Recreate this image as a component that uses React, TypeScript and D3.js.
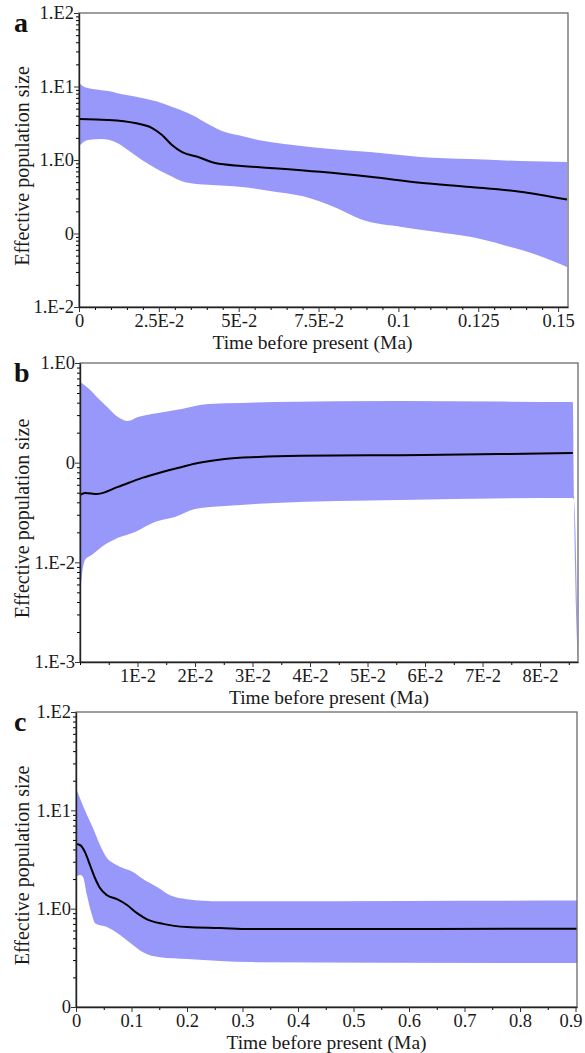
import React, { useEffect, useRef } from "react";
import * as d3 from "d3";

// ---- panel a : values (time in Ma, Ne) ----
const aHiTime = [0, 0.0019, 0.005, 0.0091, 0.0144, 0.0197, 0.0247, 0.0301, 0.0354, 0.0404, 0.0457, 0.051, 0.0561, 0.0598, 0.0755, 0.0911, 0.1068, 0.1225, 0.1381, 0.1528];
const aHi = [11.2, 9.8, 9.2, 8.7, 7.7, 7.0, 6.2, 5.1, 4.1, 3.09, 2.4, 2.12, 1.87, 1.76, 1.46, 1.28, 1.1, 1.03, 0.97, 0.94];
const aMedTime = [0, 0.0091, 0.0175, 0.0229, 0.026, 0.0291, 0.0323, 0.0373, 0.0426, 0.051, 0.0598, 0.0755, 0.0911, 0.1068, 0.1225, 0.1381, 0.1528];
const aMed = [3.6, 3.5, 3.18, 2.72, 2.19, 1.6, 1.28, 1.1, 0.91, 0.83, 0.78, 0.69, 0.59, 0.49, 0.43, 0.37, 0.29];
const aLoTime = [0, 0.0028, 0.0072, 0.0113, 0.0153, 0.0197, 0.0238, 0.0279, 0.0332, 0.0404, 0.051, 0.0598, 0.0702, 0.0808, 0.088, 0.1015, 0.1121, 0.1225, 0.1328, 0.1434, 0.1528];
const aLo = [1.55, 1.87, 1.93, 1.76, 1.37, 1.0, 0.78, 0.63, 0.5, 0.46, 0.43, 0.38, 0.32, 0.22, 0.157, 0.122, 0.105, 0.09, 0.07, 0.051, 0.035];
const aYTicks = [100, 10, 1, 0.1, 0.01];
const aYLabels = ["1.E2", "1.E1", "1.E0", "0", "1.E-2"];
const aXTicks = [0, 0.025, 0.05, 0.075, 0.1, 0.125, 0.15];
const aXLabels = ["0", "2.5E-2", "5E-2", "7.5E-2", "0.1", "0.125", "0.15"];

// ---- panel b ----
const bHiTime = [0, 0.0014, 0.0031, 0.0049, 0.0066, 0.0083, 0.0101, 0.0136, 0.0177, 0.0223, 0.0282, 0.0339, 0.0557, 0.073, 0.0857, 0.0859, 0.0866];
const bHi = [0.644, 0.561, 0.446, 0.354, 0.287, 0.262, 0.287, 0.315, 0.346, 0.388, 0.397, 0.406, 0.416, 0.41, 0.406, 0.044, 0.0011];
const bMedTime = [0, 0.0009, 0.003, 0.0066, 0.0108, 0.0143, 0.0177, 0.0205, 0.0252, 0.031, 0.0383, 0.0557, 0.073, 0.0857];
const bMed = [0.0474, 0.0497, 0.0485, 0.0571, 0.0703, 0.0807, 0.0906, 0.0993, 0.109, 0.114, 0.117, 0.119, 0.122, 0.125];
const bLoTime = [0, 0.0003, 0.0009, 0.0021, 0.0038, 0.0066, 0.0096, 0.013, 0.0165, 0.02, 0.0252, 0.0339, 0.0557, 0.0857, 0.0859, 0.0866];
const bLo = [0.0045, 0.0071, 0.0106, 0.0119, 0.0143, 0.0176, 0.0202, 0.0254, 0.0285, 0.0343, 0.0368, 0.0394, 0.0423, 0.0443, 0.042, 0.001];
const bYTicks = [1, 0.1, 0.01, 0.001];
const bYLabels = ["1.E0", "0", "1.E-2", "1.E-3"];
const bXTicks = [0.01, 0.02, 0.03, 0.04, 0.05, 0.06, 0.07, 0.08];
const bXLabels = ["1E-2", "2E-2", "3E-2", "4E-2", "5E-2", "6E-2", "7E-2", "8E-2"];

// ---- panel c ----
const cHiTime = [0, 0.0072, 0.0198, 0.0306, 0.0432, 0.0559, 0.0667, 0.0847, 0.1027, 0.1207, 0.1459, 0.1694, 0.2, 0.2595, 0.3135, 0.6, 0.9027];
const cHi = [16.9, 13.3, 8.96, 6.6, 4.44, 3.27, 2.91, 2.59, 2.36, 2.0, 1.66, 1.37, 1.25, 1.19, 1.19, 1.2, 1.21];
const cMedTime = [0, 0.0072, 0.0162, 0.0252, 0.0342, 0.0432, 0.0559, 0.0739, 0.0919, 0.1099, 0.1279, 0.1568, 0.2, 0.2595, 0.3135, 0.9027];
const cMed = [4.54, 4.44, 3.76, 2.78, 2.05, 1.62, 1.37, 1.25, 1.09, 0.9, 0.78, 0.7, 0.65, 0.635, 0.62, 0.625];
const cLoTime = [0, 0.0072, 0.0126, 0.0198, 0.0288, 0.0342, 0.0559, 0.0793, 0.0973, 0.1207, 0.1514, 0.2, 0.2595, 0.3135, 0.9027];
const cLo = [2.1, 2.2, 2.1, 1.37, 0.86, 0.71, 0.65, 0.54, 0.45, 0.36, 0.32, 0.307, 0.293, 0.286, 0.28];
const cYTicks = [100, 10, 1, 0.1];
const cYLabels = ["1.E2", "1.E1", "1.E0", "0"];
const cXTicks = [0, 0.1, 0.2, 0.3, 0.4, 0.5, 0.6, 0.7, 0.8, 0.9];
const cXLabels = ["0", "0.1", "0.2", "0.3", "0.4", "0.5", "0.6", "0.7", "0.8", "0.9"];

const xTitle = "Time before present (Ma)";
const yTitle = "Effective population size";

const FONT = "'Liberation Serif', 'Times New Roman', serif";
const BAND = "#9898fa";

type Panel = {
  letter: string;
  left: number; right: number; top: number; bottom: number;
  xMax: number; yMin: number; yMax: number; minorStep: number; titleShift: number;
  hiTime: number[]; hi: number[]; medTime: number[]; med: number[]; loTime: number[]; lo: number[];
  yTicks: number[]; yLabels: string[]; xTicks: number[]; xLabels: string[];
};

const panels: Panel[] = [
  { letter: "a", left: 79, right: 568, top: 13, bottom: 307, xMax: 0.1531, yMin: 0.01, yMax: 100, minorStep: 0.005, titleShift: -11,
    hiTime: aHiTime, hi: aHi, medTime: aMedTime, med: aMed, loTime: aLoTime, lo: aLo,
    yTicks: aYTicks, yLabels: aYLabels, xTicks: aXTicks, xLabels: aXLabels },
  { letter: "b", left: 80, right: 578, top: 363, bottom: 662, xMax: 0.0866, yMin: 0.001, yMax: 1, minorStep: 0.005, titleShift: 0,
    hiTime: bHiTime, hi: bHi, medTime: bMedTime, med: bMed, loTime: bLoTime, lo: bLo,
    yTicks: bYTicks, yLabels: bYLabels, xTicks: bXTicks, xLabels: bXLabels },
  { letter: "c", left: 76, right: 577, top: 712, bottom: 1007, xMax: 0.9027, yMin: 0.1, yMax: 100, minorStep: 0.05, titleShift: 0,
    hiTime: cHiTime, hi: cHi, medTime: cMedTime, med: cMed, loTime: cLoTime, lo: cLo,
    yTicks: cYTicks, yLabels: cYLabels, xTicks: cXTicks, xLabels: cXLabels },
];

function drawPanel(svg: any, p: Panel) {
  const x = d3.scaleLinear().domain([0, p.xMax]).range([p.left, p.right]);
  const y = d3.scaleLog().domain([p.yMin, p.yMax]).range([p.bottom, p.top]);
  const g = svg.append("g");

  const line = d3.line<number[]>().x(d => d[0]).y(d => d[1]).curve(d3.curveMonotoneX);

  // 95% HPD band: upper edge forward, lower edge back
  const up = p.hiTime.map((t, i) => [x(t), y(p.hi[i])]);
  const lo = p.loTime.map((t, i) => [x(t), y(Math.max(p.lo[i], p.yMin))]).reverse();
  const bandPath = line(up) + "L" + (line(lo) as string).slice(1) + "Z";
  g.append("path").attr("d", bandPath).attr("fill", BAND).attr("stroke", "none");

  // median
  const med = p.medTime.map((t, i) => [x(t), y(p.med[i])]);
  g.append("path").attr("d", line(med)).attr("fill", "none").attr("stroke", "#000").attr("stroke-width", 2);

  // frame
  g.append("rect")
    .attr("x", p.left).attr("y", p.top)
    .attr("width", p.right - p.left).attr("height", p.bottom - p.top)
    .attr("fill", "none").attr("stroke", "#6a6a6a").attr("stroke-width", 1.3);

  // minor ticks
  const xMinor = d3.range(0, p.xMax + 1e-9, p.minorStep).filter(v => !p.xTicks.some(t => Math.abs(t - v) < 1e-9));
  g.append("g").attr("transform", `translate(0,${p.bottom})`)
    .call(d3.axisBottom(x).tickValues(xMinor).tickSize(3).tickSizeOuter(0).tickFormat(() => ""))
    .call((a: any) => a.select(".domain").remove());
  const yMinor: number[] = [];
  for (let d = p.yMin; d < p.yMax * 0.999; d *= 10) for (let k = 2; k <= 9; k++) yMinor.push(d * k);
  g.append("g").attr("transform", `translate(${p.left},0)`)
    .call(d3.axisLeft(y).tickValues(yMinor).tickSize(3).tickSizeOuter(0).tickFormat(() => ""))
    .call((a: any) => a.select(".domain").remove());

  // major axes
  const xa = g.append("g").attr("transform", `translate(0,${p.bottom})`)
    .call(d3.axisBottom(x).tickValues(p.xTicks).tickSize(5).tickPadding(2).tickSizeOuter(0)
      .tickFormat((_d: any, i: number) => p.xLabels[i]));
  const ya = g.append("g").attr("transform", `translate(${p.left},0)`)
    .call(d3.axisLeft(y).tickValues(p.yTicks).tickSize(5).tickPadding(0).tickSizeOuter(0)
      .tickFormat((_d: any, i: number) => p.yLabels[i]));
  [xa, ya].forEach(a => {
    a.attr("font-family", FONT).attr("font-size", 18.5);
    a.selectAll("text").attr("fill", "#1a1a1a");
    a.selectAll("line").attr("stroke", "#333");
    a.select(".domain").attr("stroke", "#222").attr("stroke-width", 1.4);
  });
  // last x label kept inside the page, as in the figure
  const xt = xa.selectAll(".tick text");
  const lastX = p.xTicks[p.xTicks.length - 1];
  if (x(lastX) + 14 > 585) {
    xa.selectAll(".tick").filter((d: number) => d === lastX).select("text")
      .attr("text-anchor", "end").attr("x", 585 - x(lastX) - 3);
  }
  void xt;

  // titles
  g.append("text")
    .attr("x", (p.left + p.right) / 2 + p.titleShift).attr("y", p.bottom + 42)
    .attr("text-anchor", "middle").attr("font-family", FONT).attr("font-size", 19.5).attr("fill", "#1a1a1a")
    .text(xTitle);
  g.append("text")
    .attr("transform", `translate(29,${(p.top + p.bottom) / 2 + 6}) rotate(-90)`)
    .attr("text-anchor", "middle").attr("font-family", FONT).attr("font-size", 20).attr("fill", "#1a1a1a")
    .text(yTitle);
  g.append("text")
    .attr("x", 14).attr("y", p.top + 19)
    .attr("font-family", FONT).attr("font-size", 28).attr("font-weight", "bold").attr("fill", "#111")
    .text(p.letter);
}

export default function App() {
  const ref = useRef<SVGSVGElement>(null);

  useEffect(() => {
    document.body.style.margin = "0";
    const svg = d3.select(ref.current);
    svg.selectAll("*").remove();
    panels.forEach(p => drawPanel(svg, p));
  }, []);

  return <svg ref={ref} width={585} height={1053} style={{ display: "block", background: "#fff" }} />;
}
